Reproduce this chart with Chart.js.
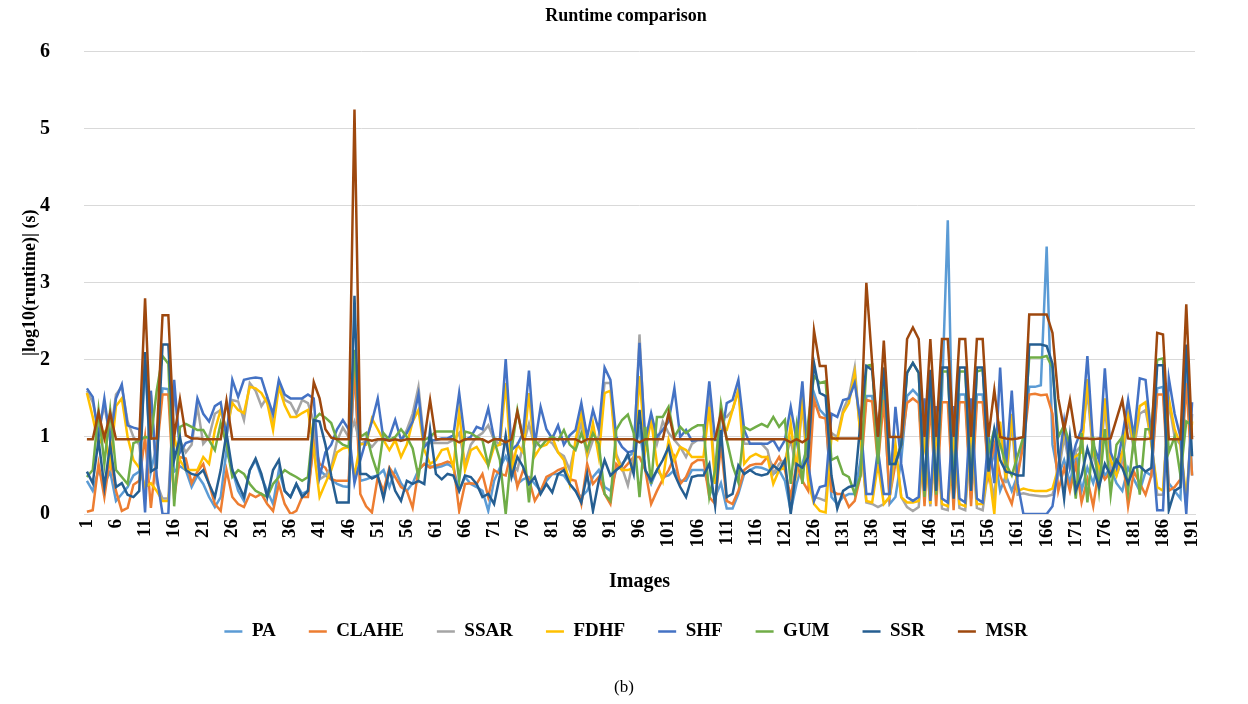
<!DOCTYPE html>
<html>
<head>
<meta charset="utf-8">
<script src="https://cdn.jsdelivr.net/npm/chart.js@4.4.1/dist/chart.umd.min.js"></script>
<style>
  html, body { margin: 0; padding: 0; background: #fff; }
  #wrap { position: relative; width: 1248px; height: 704px; }
  #caption { position: absolute; left: 0; top: 677px; width: 1248px; text-align: center;
             font: 17px "Liberation Serif", "Times New Roman", serif; color: #000; }
</style>
</head>
<body>
<div id="wrap">
  <canvas id="runtimeChart" width="1248" height="704"></canvas>
  <div id="caption">(b)</div>
</div>
<script>
// image numbers 1..191
const images = Array.from({ length: 191 }, (_, i) => String(i + 1));

const PA = [
  0.43,0.3,0.57,0.39,0.55,0.17,0.26,0.35,0.5,0.55,
  2.0,0.55,0.9,1.63,1.62,0.55,0.62,0.57,0.35,0.5,
  0.39,0.22,0.09,0.22,0.83,0.57,0.3,0.17,0.57,0.7,
  0.48,0.3,0.13,0.57,0.3,0.22,0.39,0.26,0.3,0.91,
  0.57,0.5,0.45,0.39,0.36,0.35,1.9,0.43,0.45,0.48,
  0.5,0.57,0.35,0.57,0.4,0.3,0.4,0.57,0.65,0.62,
  0.6,0.62,0.65,0.6,0.3,0.48,0.39,0.35,0.3,0.04,
  0.43,0.6,0.75,0.57,0.39,0.45,0.48,0.39,0.3,0.43,
  0.52,0.52,0.5,0.39,0.3,0.22,0.3,0.48,0.57,0.35,
  0.3,0.57,0.65,0.74,0.8,1.09,0.57,0.39,0.57,0.48,
  0.5,0.57,0.43,0.43,0.57,0.57,0.57,0.35,0.22,0.4,
  0.07,0.07,0.26,0.52,0.57,0.61,0.6,0.57,0.52,0.57,
  0.43,0.04,0.39,0.65,0.9,1.57,1.35,1.27,0.22,0.13,
  0.22,0.26,0.26,0.7,1.53,1.53,0.83,1.6,0.13,0.22,
  0.7,1.53,1.61,1.53,0.22,1.55,0.3,1.55,3.81,0.2,
  1.55,1.55,0.2,1.55,1.55,0.5,0.8,0.3,0.5,0.3,
  0.5,1.0,1.65,1.65,1.67,3.47,0.9,0.5,0.7,0.4,
  0.8,0.3,0.6,0.4,0.7,0.5,0.6,0.4,0.3,0.6,
  0.45,0.3,0.55,0.5,1.63,1.65,0.4,0.3,0.2,2.0,0.5
];
const CLAHE = [
  0.03,0.05,0.65,0.22,0.74,0.3,0.04,0.08,0.38,0.43,
  1.0,0.08,0.8,1.55,1.55,0.2,0.74,0.72,0.4,0.55,
  0.65,0.39,0.13,0.04,0.57,0.22,0.13,0.09,0.26,0.22,
  0.26,0.13,0.04,0.39,0.13,0.0,0.04,0.22,0.22,0.96,
  0.65,0.6,0.45,0.43,0.43,0.43,2.0,0.26,0.1,0.02,
  0.48,0.3,0.6,0.48,0.35,0.3,0.08,0.57,0.65,0.6,
  0.63,0.65,0.68,0.65,0.04,0.39,0.4,0.39,0.52,0.22,
  0.57,0.52,0.5,0.83,0.35,0.57,0.45,0.17,0.3,0.48,
  0.52,0.57,0.6,0.45,0.43,0.13,0.65,0.39,0.48,0.26,
  0.13,0.65,0.57,0.65,0.74,0.74,0.57,0.13,0.3,0.45,
  0.57,0.74,0.39,0.48,0.65,0.7,0.7,0.22,0.13,0.9,
  0.17,0.13,0.3,0.57,0.63,0.65,0.65,0.74,0.61,0.74,
  0.57,0.22,0.65,0.43,0.3,1.48,1.26,1.24,0.3,0.26,
  0.26,0.09,0.17,0.5,1.48,1.46,0.65,1.48,0.22,0.65,
  0.9,1.44,1.5,1.44,0.1,1.45,0.1,1.45,1.45,0.05,
  1.45,1.45,0.1,1.45,1.45,0.5,0.9,0.5,0.3,0.13,
  0.5,0.9,1.55,1.56,1.54,1.55,1.3,0.3,0.6,0.3,
  0.65,0.15,0.45,0.1,0.6,0.45,0.55,0.7,0.8,0.1,
  0.55,0.4,0.25,0.5,1.55,1.55,0.3,0.35,0.45,1.7,0.5
];
const SSAR = [
  1.6,1.45,1.1,1.4,1.0,1.55,1.65,1.2,1.0,0.9,
  0.2,1.55,0.4,0.2,0.2,1.6,0.95,0.8,0.9,1.4,
  0.91,1.0,1.3,1.35,1.0,1.48,1.46,1.22,1.7,1.6,
  1.4,1.52,1.18,1.7,1.48,1.44,1.3,1.48,1.44,1.2,
  0.45,0.5,0.6,0.95,1.12,1.0,1.2,0.9,0.95,0.87,
  0.96,0.96,0.96,0.96,0.96,1.09,1.3,1.65,0.92,0.92,
  0.92,0.92,0.92,0.96,1.05,0.65,0.9,1.0,1.05,1.15,
  0.96,0.9,0.92,0.65,0.57,0.9,1.17,0.87,0.96,0.96,
  0.92,0.8,0.75,0.57,0.91,1.18,0.74,0.96,1.0,1.7,
  1.7,0.78,0.6,0.37,0.74,2.33,0.83,1.26,0.91,1.2,
  1.05,0.96,0.87,0.74,0.91,0.96,0.96,1.48,0.48,1.26,
  1.26,1.35,1.61,0.91,0.91,0.91,0.91,0.83,0.52,0.65,
  0.7,0.96,0.57,1.44,0.43,0.22,0.2,0.17,1.05,1.0,
  1.35,1.52,1.9,1.0,0.15,0.13,0.09,0.13,0.22,0.83,
  0.22,0.09,0.04,0.09,1.05,0.1,1.2,0.07,0.05,1.0,
  0.08,0.05,1.1,0.08,0.05,0.6,0.2,1.15,0.4,1.2,
  0.25,0.27,0.25,0.24,0.23,0.23,0.25,0.5,1.0,0.6,
  0.8,0.9,1.6,0.75,0.5,1.4,0.6,0.5,0.7,1.2,
  0.85,1.3,1.35,0.95,0.25,0.25,1.45,1.0,0.9,0.1,1.3
];
const FDHF = [
  1.57,1.26,0.9,1.05,0.65,1.4,1.5,1.0,0.7,0.6,
  0.35,0.4,0.3,0.17,0.17,1.0,0.7,0.57,0.57,0.57,
  0.74,0.65,1.09,1.35,1.1,1.44,1.35,1.31,1.65,1.63,
  1.57,1.44,1.09,1.65,1.41,1.26,1.26,1.31,1.35,0.83,
  0.22,0.4,0.57,0.8,0.85,0.87,0.5,0.91,0.9,1.24,
  1.1,0.96,0.83,0.96,0.74,0.9,1.2,1.35,0.83,0.65,
  0.7,0.83,0.85,0.6,1.33,0.57,0.83,0.87,0.75,0.63,
  0.87,0.9,1.7,0.57,0.9,0.8,1.57,0.75,0.87,0.9,
  1.0,0.8,0.7,0.39,0.96,1.31,0.78,1.18,0.74,1.57,
  1.6,0.74,0.57,0.57,0.6,1.79,0.83,1.22,0.65,0.43,
  0.96,0.7,0.87,0.83,0.74,0.74,0.74,1.39,0.39,1.09,
  1.09,1.35,1.61,0.65,0.74,0.78,0.74,0.74,0.39,0.57,
  0.6,1.17,0.57,1.53,0.43,0.13,0.04,0.02,1.0,0.96,
  1.31,1.44,1.83,1.0,0.17,0.15,0.65,0.13,0.22,0.91,
  0.22,0.15,0.15,0.17,1.0,0.13,1.1,0.13,0.1,1.05,
  0.13,0.1,1.2,0.13,0.13,0.6,0.0,1.2,0.45,1.3,
  0.3,0.33,0.31,0.3,0.3,0.3,0.33,0.6,1.1,0.7,
  0.75,0.8,1.75,0.8,0.6,1.5,0.7,0.5,0.8,1.3,
  0.9,1.4,1.45,0.9,0.35,0.3,1.5,1.1,0.9,0.2,1.2
];
const SHF = [
  1.63,1.52,1.0,1.5,0.95,1.5,1.68,1.15,1.12,1.1,
  0.02,1.6,0.5,0.0,0.0,1.74,0.8,0.92,0.95,1.5,
  1.3,1.2,1.4,1.45,1.0,1.74,1.52,1.74,1.76,1.77,
  1.76,1.52,1.3,1.74,1.55,1.5,1.5,1.5,1.55,1.5,
  0.48,0.8,0.9,1.1,1.22,1.1,0.4,0.7,0.96,1.2,
  1.5,0.96,1.0,1.22,0.96,1.05,1.2,1.55,0.87,0.95,
  0.96,0.98,0.98,1.02,1.57,0.96,1.0,1.13,1.1,1.37,
  0.98,0.96,2.01,0.83,0.9,1.05,1.86,0.9,1.39,1.1,
  0.98,1.15,0.9,1.02,1.09,1.44,1.0,1.35,1.09,1.9,
  1.74,1.0,0.87,0.8,0.82,2.22,0.96,1.31,1.0,1.09,
  1.2,1.63,1.0,1.09,0.95,0.96,0.96,1.72,0.96,0.96,
  1.44,1.48,1.74,1.09,0.91,0.91,0.91,0.91,0.96,0.83,
  0.96,1.39,0.96,1.72,0.65,0.17,0.35,0.37,1.3,1.26,
  1.48,1.5,1.7,1.2,0.26,0.26,0.83,0.26,0.26,1.39,
  0.65,0.22,0.17,0.22,1.5,0.17,1.4,0.2,0.15,1.4,
  0.2,0.15,1.5,0.2,0.15,1.0,0.4,1.9,0.6,1.6,
  0.4,0.0,0.0,0.0,0.0,0.0,0.1,0.6,1.2,0.6,
  0.9,1.1,2.05,0.9,0.7,1.89,0.8,0.6,1.0,1.48,
  1.0,1.76,1.74,1.0,0.05,0.05,1.76,1.3,1.0,0.0,1.45
];
const GUM = [
  0.48,0.57,1.35,0.65,1.35,0.57,0.48,0.39,0.92,0.95,
  1.0,0.98,1.6,2.05,1.95,0.1,1.13,1.17,1.13,1.09,
  1.09,0.96,0.83,1.18,0.9,0.48,0.57,0.52,0.39,0.3,
  0.26,0.22,0.39,0.48,0.57,0.52,0.48,0.43,0.48,1.22,
  1.3,1.25,1.18,0.96,0.9,0.87,2.13,1.0,1.05,0.75,
  0.52,1.05,0.96,1.0,1.1,1.0,0.85,0.48,0.96,1.0,
  1.07,1.07,1.07,1.07,0.43,1.07,1.05,1.0,0.96,0.63,
  0.96,0.7,0.0,0.83,1.35,0.96,0.15,0.96,0.87,0.96,
  1.0,0.96,1.09,0.9,0.83,1.05,0.83,1.05,0.91,0.26,
  0.17,1.09,1.22,1.29,1.05,0.22,1.13,0.39,1.26,1.26,
  1.39,1.0,1.13,1.05,1.11,1.15,1.15,0.22,0.57,1.42,
  0.96,0.63,0.41,1.13,1.09,1.13,1.17,1.13,1.26,1.13,
  1.22,0.39,1.13,0.39,1.2,1.79,1.7,1.72,0.7,0.74,
  0.52,0.48,0.26,0.5,1.92,1.94,0.65,1.9,0.65,0.65,
  0.9,1.83,1.96,1.83,0.22,1.85,0.25,1.85,1.85,0.35,
  1.85,1.85,0.4,1.85,1.87,0.8,1.1,0.9,0.65,0.5,
  0.75,1.0,2.03,2.03,2.03,2.05,1.9,1.0,1.15,0.9,
  0.2,1.05,0.15,1.0,0.3,1.1,0.25,0.9,1.0,0.3,
  1.0,0.25,1.1,1.1,2.0,2.02,0.8,1.0,0.5,1.2,1.15
];
const SSR = [
  0.55,0.4,0.96,0.35,0.9,0.35,0.4,0.25,0.22,0.3,
  2.1,0.55,0.6,2.2,2.2,0.7,1.0,0.57,0.52,0.5,
  0.57,0.39,0.22,0.57,1.05,0.57,0.39,0.22,0.57,0.72,
  0.52,0.22,0.57,0.7,0.3,0.22,0.39,0.22,0.3,1.22,
  1.2,0.9,0.5,0.15,0.15,0.15,2.83,0.52,0.52,0.46,
  0.5,0.2,0.57,0.3,0.17,0.43,0.39,0.43,0.39,1.09,
  0.52,0.45,0.52,0.5,0.3,0.5,0.48,0.39,0.22,0.26,
  0.13,0.5,1.02,0.48,0.74,0.61,0.39,0.48,0.26,0.39,
  0.28,0.52,0.57,0.39,0.3,0.15,0.52,0.04,0.43,0.7,
  0.5,0.57,0.63,0.78,0.52,1.35,0.57,0.43,0.57,0.7,
  0.87,0.52,0.35,0.22,0.48,0.5,0.5,0.65,0.11,1.09,
  0.22,0.26,0.63,0.52,0.57,0.52,0.5,0.52,0.63,0.57,
  0.7,0.0,0.65,0.6,0.74,1.96,1.57,1.53,0.5,0.07,
  0.3,0.35,0.37,1.2,1.92,1.87,1.0,1.9,0.65,0.65,
  0.9,1.83,1.96,1.83,0.3,1.87,0.3,1.9,1.9,0.2,
  1.9,1.9,0.3,1.9,1.9,0.55,1.1,0.7,0.55,0.53,
  0.5,0.5,2.2,2.2,2.2,2.18,1.95,0.8,0.2,1.0,
  0.3,0.5,0.85,0.6,0.35,0.65,0.5,0.7,0.6,0.4,
  0.6,0.62,0.55,0.6,1.93,1.93,0.05,0.3,0.35,2.2,0.75
];
const MSR = [
  0.97,0.97,1.32,0.98,1.31,0.97,0.97,0.97,0.97,0.97,
  2.8,0.98,0.98,2.58,2.58,1.0,1.49,1.02,0.98,0.98,
  0.97,0.97,0.97,0.97,1.47,0.97,0.97,0.97,0.97,0.97,
  0.97,0.97,0.97,0.97,0.97,0.97,0.97,0.97,0.97,1.71,
  1.5,1.1,0.99,0.97,0.97,0.97,5.25,0.97,0.97,0.95,
  0.97,0.97,0.95,0.97,0.95,0.97,0.97,0.97,0.97,1.48,
  0.97,0.97,0.97,0.97,0.93,0.97,0.97,0.97,0.97,0.93,
  0.97,0.97,0.93,0.97,1.33,0.97,0.97,0.97,0.97,0.97,
  0.97,0.97,0.97,0.97,0.97,0.93,0.97,0.97,0.97,0.97,
  0.97,0.97,0.97,0.97,0.97,0.93,0.97,0.97,0.97,0.97,
  1.31,0.97,0.97,0.97,0.97,0.97,0.97,0.97,0.97,1.31,
  0.97,0.97,0.97,0.97,0.97,0.97,0.97,0.97,0.97,0.97,
  0.97,0.93,0.97,0.93,0.98,2.38,1.92,1.92,0.98,0.98,
  0.98,0.98,0.98,0.98,3.0,1.96,1.0,2.25,1.0,1.0,
  1.0,2.27,2.42,2.27,1.0,2.27,1.0,2.27,2.27,1.0,
  2.27,2.27,1.0,2.27,2.27,1.0,1.61,1.0,0.98,0.97,
  0.98,1.0,2.59,2.59,2.59,2.59,2.35,1.5,1.09,1.48,
  1.0,0.98,0.98,0.97,0.98,0.97,0.98,1.23,1.48,0.98,
  0.97,0.97,0.97,0.98,2.35,2.33,0.97,0.97,0.97,2.72,0.97
];

const seriesNames = ['PA', 'CLAHE', 'SSAR', 'FDHF', 'SHF', 'GUM', 'SSR', 'MSR'];
const seriesValues = [PA, CLAHE, SSAR, FDHF, SHF, GUM, SSR, MSR];
const seriesColors = ['#5B9BD5', '#ED7D31', '#A5A5A5', '#FFC000', '#4472C4', '#70AD47', '#255E91', '#9E480E'];

const serif = '"Liberation Serif", "Times New Roman", serif';
Chart.defaults.font.family = serif;
Chart.defaults.color = '#000';

const ctx = document.getElementById('runtimeChart').getContext('2d');
const runtimeChart = new Chart(ctx, {
  type: 'line',
  data: {
    labels: images,
    datasets: seriesNames.map((name, i) => ({
      label: name,
      data: seriesValues[i],
      borderColor: seriesColors[i],
      backgroundColor: seriesColors[i],
      borderWidth: 2.5,
      pointRadius: 0,
      tension: 0,
      order: seriesNames.length - i, // MSR drawn last, on top
    }))
  },
  options: {
    responsive: false,
    animation: false,
    layout: { padding: { left: 4, right: 0, top: 0, bottom: 53 } },
    scales: {
      x: {
        offset: true,
        grid: { display: false, drawTicks: false },
        border: { color: '#d9d9d9' },
        ticks: {
          autoSkip: false,
          minRotation: 90,
          maxRotation: 90,
          padding: 5,
          font: { size: 19, weight: 'bold' },
          callback: function (value, index) {
            return index % 5 === 0 ? images[index] : '';
          },
        },
        title: {
          display: true,
          text: 'Images',
          font: { size: 20, weight: 'bold' },
          padding: { top: 4, bottom: 14 },
        },
        afterFit: (scale) => {
          scale.height = 94;
          scale.paddingRight = 53;
        },
      },
      y: {
        min: 0,
        max: 6,
        ticks: { stepSize: 1, padding: 34, font: { size: 20, weight: 'bold' } },
        grid: { color: '#d9d9d9', drawTicks: false },
        border: { display: false },
        title: {
          display: true,
          text: '|log10(runtime)| (s)',
          font: { size: 18, weight: 'bold' },
          padding: { top: 16 },
        },
        afterFit: (scale) => {
          scale.width = 80;
        },
      },
    },
    plugins: {
      title: {
        display: true,
        text: 'Runtime comparison',
        font: { size: 18, weight: 'bold' },
        padding: { top: 6, bottom: 24 },
      },
      legend: {
        position: 'bottom',
        labels: {
          usePointStyle: true,
          pointStyle: 'line',
          pointStyleWidth: 18,
          padding: 14,
          font: { size: 19, weight: 'bold' },
          sort: (a, b) => a.datasetIndex - b.datasetIndex,
          // extra gap between entries, as in the original legend
          generateLabels: (chart) => {
            const items = Chart.defaults.plugins.legend.labels.generateLabels(chart);
            items.forEach((item) => {
              if (item.text !== 'MSR') item.text = item.text + '    ';
            });
            return items;
          },
        },
      },
      tooltip: { enabled: false },
    },
  },
});
</script>
</body>
</html>
